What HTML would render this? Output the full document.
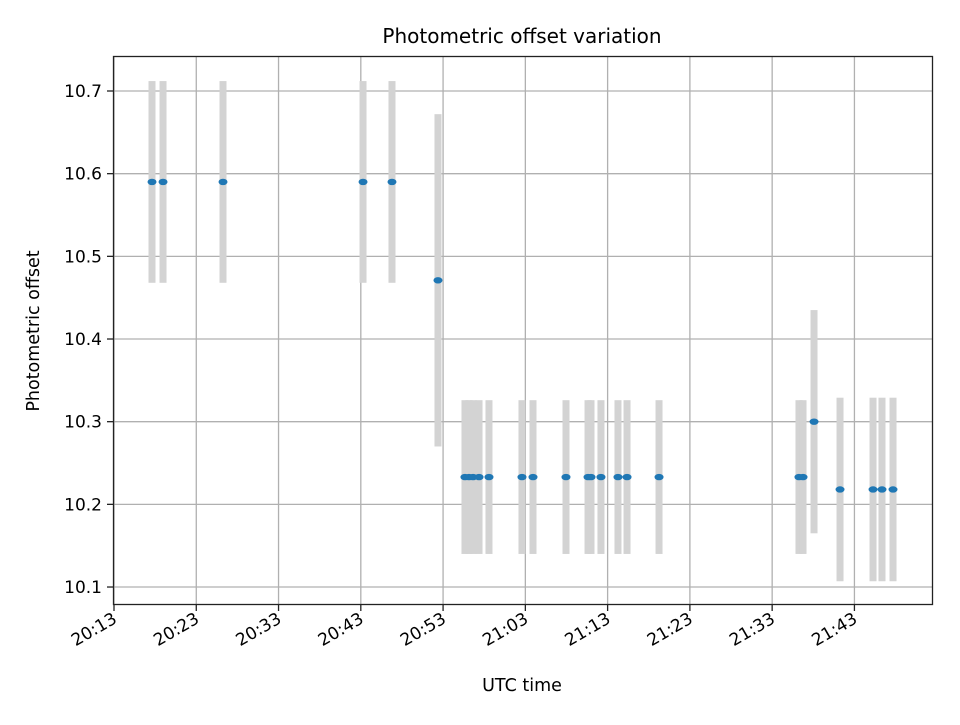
<!DOCTYPE html>
<html><head><meta charset="utf-8"><style>
body{margin:0;background:#fff}
svg text{font-family:"DejaVu Sans","Liberation Sans",sans-serif;fill:#000}
</style></head><body>
<svg id="chart" width="960" height="720" viewBox="0 0 960 720" xmlns="http://www.w3.org/2000/svg">
<rect width="960" height="720" fill="#fff"/>
<g id="grid"></g>
<g id="bars"></g>
<g id="dots"></g>
<rect x="113.5" y="56.5" width="819" height="548" fill="none" stroke="#222" stroke-width="1.3"/>
<g id="axes"></g>
<text x="522" y="43" text-anchor="middle" font-size="20">Photometric offset variation</text>
<text x="522" y="691" text-anchor="middle" font-size="17.5">UTC time</text>
<text transform="translate(39,331) rotate(-90)" text-anchor="middle" font-size="17.5">Photometric offset</text>
</svg>
<script>
// minutes after 20:13 UTC
const times = [4.62, 5.96, 13.25, 30.27, 33.79, 39.38, 42.66, 43.15, 43.64, 44.37, 45.58, 49.59, 50.93, 54.94, 57.62, 57.98, 59.19, 61.26, 62.36, 66.25, 83.26, 83.75, 85.09, 88.25, 92.26, 93.35, 94.69];
const offsets = [10.59, 10.59, 10.59, 10.59, 10.59, 10.471, 10.233, 10.233, 10.233, 10.233, 10.233, 10.233, 10.233, 10.233, 10.233, 10.233, 10.233, 10.233, 10.233, 10.233, 10.233, 10.233, 10.300, 10.218, 10.218, 10.218, 10.218];
const errors = [0.122, 0.122, 0.122, 0.122, 0.122, 0.201, 0.093, 0.093, 0.093, 0.093, 0.093, 0.093, 0.093, 0.093, 0.093, 0.093, 0.093, 0.093, 0.093, 0.093, 0.093, 0.093, 0.135, 0.111, 0.111, 0.111, 0.111];
const yTicks = [10.1, 10.2, 10.3, 10.4, 10.5, 10.6, 10.7];
const xTickMinutes = [0, 10, 20, 30, 40, 50, 60, 70, 80, 90];
const xTickLabels = ["20:13","20:23","20:33","20:43","20:53","21:03","21:13","21:23","21:33","21:43"];

const NS = "http://www.w3.org/2000/svg";
const xS = m => 114 + m * 8.227;
const yS = v => 91 + (10.7 - v) * 826.7;
function mk(tag, attrs, parent){const e=document.createElementNS(NS,tag);for(const k in attrs)e.setAttribute(k,attrs[k]);parent.appendChild(e);return e;}
const grid=document.getElementById('grid'),bars=document.getElementById('bars'),dots=document.getElementById('dots'),axes=document.getElementById('axes');

yTicks.forEach(v=>{
  const y=yS(v);
  const g=mk('line',{x1:113.5,x2:932.5,y1:y,y2:y,stroke:'#b0b0b0','stroke-width':1.3},grid);
  
  
  const t=mk('line',{x1:107,x2:113.5,y1:y,y2:y,stroke:'#222','stroke-width':1.3},axes);
  
  
  const l=mk('text',{x:102,y:y+6,'text-anchor':'end','font-size':'17'},axes);
  l.textContent=v.toFixed(1);
  
  
});
xTickMinutes.forEach((m,i)=>{
  const x=xS(m);
  const g=mk('line',{x1:x,x2:x,y1:56.5,y2:604.5,stroke:'#b0b0b0','stroke-width':1.3},grid);
  
  
  const t=mk('line',{x1:x,x2:x,y1:604.5,y2:611,stroke:'#222','stroke-width':1.3},axes);
  
  
  const l=mk('text',{transform:`translate(${x+4},${622}) rotate(-30)`,'text-anchor':'end','font-size':'17'},axes);
  l.textContent=xTickLabels[i];
  
  
});
times.forEach((m,i)=>{
  const x=xS(m), y1=yS(offsets[i]+errors[i]), y2=yS(offsets[i]-errors[i]);
  const b=mk('rect',{x:x-3.5,y:y1,width:7,height:y2-y1,fill:'#d3d3d3'},bars);
  
  
  const d=mk('ellipse',{cx:x,cy:yS(offsets[i]),rx:4.5,ry:3.2,fill:'#1f77b4'},dots);
  
  
});
</script>
</body></html>
